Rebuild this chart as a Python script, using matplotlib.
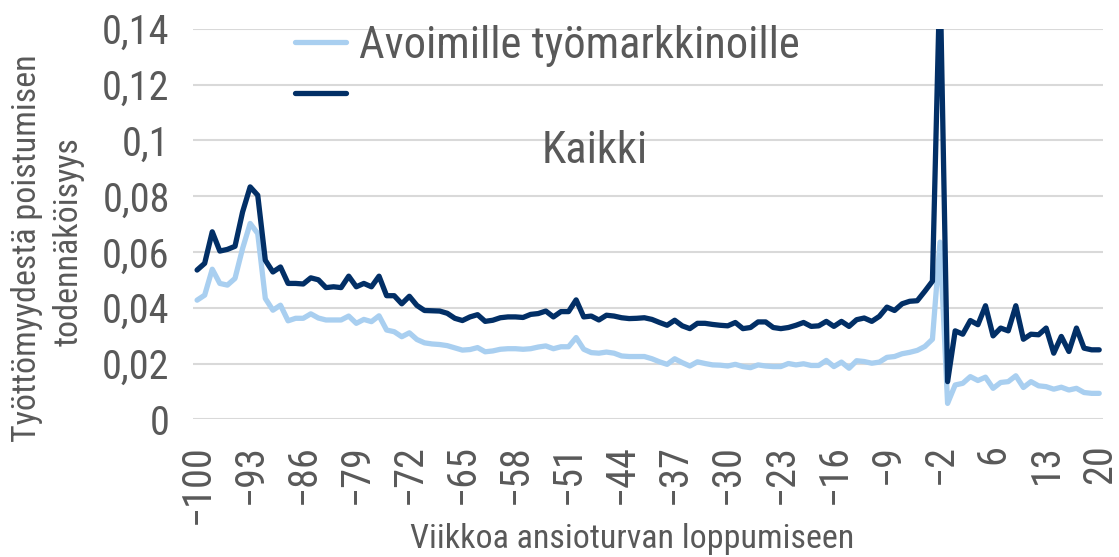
import matplotlib.pyplot as plt
import numpy as np

# weeks until the end of earnings-related benefit (no week 0)
weeks = list(range(-100, 0)) + list(range(1, 21))

avoimille = [
    0.0427, 0.0445, 0.0538, 0.0487, 0.0481, 0.0505, 0.0612, 0.0702, 0.0666, 0.0433,
    0.0391, 0.0409, 0.0353, 0.0362, 0.0362, 0.0378, 0.0363, 0.0356, 0.0356, 0.0356,
    0.0370, 0.0344, 0.0358, 0.0350, 0.0371, 0.0320, 0.0314, 0.0296, 0.0310, 0.0286,
    0.0274, 0.0270, 0.0268, 0.0264, 0.0256, 0.0248, 0.0250, 0.0257, 0.0242, 0.0245,
    0.0251, 0.0253, 0.0253, 0.0251, 0.0253, 0.0259, 0.0263, 0.0253, 0.0260, 0.0260,
    0.0293, 0.0251, 0.0239, 0.0237, 0.0241, 0.0237, 0.0227, 0.0225, 0.0225, 0.0225,
    0.0217, 0.0206, 0.0197, 0.0217, 0.0203, 0.0191, 0.0206, 0.0200, 0.0195, 0.0194,
    0.0191, 0.0197, 0.0189, 0.0185, 0.0195, 0.0191, 0.0189, 0.0189, 0.0200, 0.0195,
    0.0199, 0.0193, 0.0193, 0.0211, 0.0189, 0.0205, 0.0183, 0.0210, 0.0207, 0.0201,
    0.0205, 0.0222, 0.0225, 0.0235, 0.0240, 0.0247, 0.0261, 0.0287, 0.0635, 0.0057,
    0.0123, 0.0129, 0.0153, 0.0139, 0.0151, 0.0111, 0.0132, 0.0135, 0.0156, 0.0114,
    0.0135, 0.0120, 0.0117, 0.0108, 0.0115, 0.0105, 0.0111, 0.0096, 0.0093, 0.0093,
]

kaikki = [
    0.0535, 0.0559, 0.0672, 0.0603, 0.0609, 0.0620, 0.0743, 0.0833, 0.0803, 0.0570,
    0.0528, 0.0546, 0.0487, 0.0487, 0.0485, 0.0507, 0.0500, 0.0472, 0.0475, 0.0472,
    0.0513, 0.0475, 0.0487, 0.0475, 0.0513, 0.0443, 0.0443, 0.0414, 0.0441, 0.0408,
    0.0390, 0.0389, 0.0388, 0.0380, 0.0362, 0.0354, 0.0367, 0.0375, 0.0351, 0.0355,
    0.0364, 0.0367, 0.0367, 0.0365, 0.0376, 0.0379, 0.0388, 0.0367, 0.0386, 0.0386,
    0.0428, 0.0367, 0.0370, 0.0356, 0.0373, 0.0370, 0.0364, 0.0361, 0.0362, 0.0364,
    0.0358, 0.0347, 0.0337, 0.0355, 0.0335, 0.0325, 0.0344, 0.0344, 0.0340, 0.0337,
    0.0335, 0.0347, 0.0325, 0.0329, 0.0349, 0.0349, 0.0329, 0.0325, 0.0329, 0.0337,
    0.0347, 0.0333, 0.0335, 0.0351, 0.0333, 0.0351, 0.0333, 0.0357, 0.0363, 0.0351,
    0.0369, 0.0402, 0.0390, 0.0414, 0.0423, 0.0425, 0.0459, 0.0495, 0.1600, 0.0135,
    0.0317, 0.0305, 0.0354, 0.0339, 0.0407, 0.0299, 0.0327, 0.0317, 0.0407, 0.0287,
    0.0305, 0.0303, 0.0327, 0.0237, 0.0297, 0.0243, 0.0327, 0.0255, 0.0249, 0.0249,
]

yticks = [0, 0.02, 0.04, 0.06, 0.08, 0.1, 0.12, 0.14]
ytick_labels = ["0", "0,02", "0,04", "0,06", "0,08", "0,1", "0,12", "0,14"]

plt.rcParams["font.family"] = ["Roboto Condensed", "Liberation Sans Narrow", "DejaVu Sans"]
grey = "#595959"
light = "#a9cff0"
dark = "#022f66"

W, H = 1119, 557
fig = plt.figure(figsize=(W / 100, H / 100), dpi=100)
ax = fig.add_axes([193.3 / W, 1 - 419.3 / H, (1103 - 193.3) / W, (419.3 - 28.7) / H])

x = np.arange(len(weeks))
ax.plot(x, avoimille, color=light, lw=3.8, solid_capstyle="round", solid_joinstyle="round",
        label="Avoimille työmarkkinoille")
ax.plot(x, kaikki, color=dark, lw=3.8, solid_capstyle="round", solid_joinstyle="round",
        label=" ")

ax.set_xlim(-0.5, len(weeks) - 0.5)
ax.set_ylim(0, 0.14)
ax.set_yticks(yticks, ytick_labels)
ax.set_xticks(x[::7], [str(w).replace("-", "\u2212") for w in weeks[::7]], rotation=90)
ax.tick_params(axis="y", length=0, pad=17, labelsize=29, labelcolor=grey)
ax.tick_params(axis="x", length=0, pad=18, labelsize=29, labelcolor=grey)
ax.grid(axis="y", color="#d9d9d9", lw=1.5)
ax.set_axisbelow(True)
for s in ax.spines.values():
    s.set_visible(False)

leg = ax.legend(loc="upper left", bbox_to_anchor=(295 / W, 1 - 25 / H),
                bbox_transform=fig.transFigure, frameon=False, fontsize=32,
                handlelength=1.15, handletextpad=0.28, labelspacing=0.2,
                borderpad=0, borderaxespad=0)
for t in leg.get_texts():
    t.set_color(grey)
fig.text(542 / W, 1 - 163 / H, "Kaikki", fontsize=32, color=grey, va="baseline", ha="left")

fig.text(27 / W, 1 - 248 / H, "Työttömyydestä poistumisen", rotation=90, fontsize=24.5,
         color=grey, ha="center", va="center")
fig.text(69 / W, 1 - 242 / H, "todennäköisyys", rotation=90, fontsize=24.5,
         color=grey, ha="center", va="center")
fig.text(632 / W, 1 - 548 / H, "Viikkoa ansioturvan loppumiseen", fontsize=24.5,
         color=grey, ha="center", va="baseline")

fig.savefig("out.png", dpi=100)
